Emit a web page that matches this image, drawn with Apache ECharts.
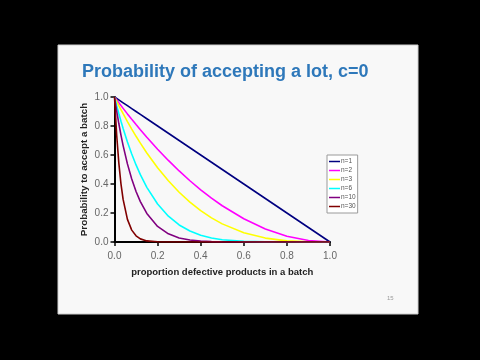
<!DOCTYPE html>
<html>
<head>
<meta charset="utf-8">
<script src="https://cdn.jsdelivr.net/npm/echarts@6/dist/echarts.min.js"></script>
<style>html,body{margin:0;padding:0;background:#000;}#c{width:480px;height:360px;}</style>
</head>
<body>
<div id="c"></div>
<script>
// proportion defective (x)
var pDefective = [0, 0.01, 0.02, 0.03, 0.04, 0.06, 0.08, 0.1, 0.12, 0.15, 0.2, 0.25, 0.3, 0.35, 0.4, 0.45, 0.5, 0.6, 0.7, 0.8, 0.9, 1.0];
var n1  = [1, 0.99, 0.98, 0.97, 0.96, 0.94, 0.92, 0.9, 0.88, 0.85, 0.8, 0.75, 0.7, 0.65, 0.6, 0.55, 0.5, 0.4, 0.3, 0.2, 0.1, 0];
var n2  = [1, 0.9801, 0.9604, 0.9409, 0.9216, 0.8836, 0.8464, 0.81, 0.7744, 0.7225, 0.64, 0.5625, 0.49, 0.4225, 0.36, 0.3025, 0.25, 0.16, 0.09, 0.04, 0.01, 0];
var n3  = [1, 0.9703, 0.9412, 0.9127, 0.8847, 0.8306, 0.7787, 0.729, 0.6815, 0.6141, 0.512, 0.4219, 0.343, 0.2746, 0.216, 0.1664, 0.125, 0.064, 0.027, 0.008, 0.001, 0];
var n6  = [1, 0.9415, 0.8858, 0.833, 0.7827, 0.6899, 0.6064, 0.5314, 0.4644, 0.3771, 0.2621, 0.178, 0.1176, 0.0754, 0.0467, 0.0277, 0.0156, 0.0041, 0.0007, 0.0001, 0, 0];
var n10 = [1, 0.9044, 0.8171, 0.7374, 0.6648, 0.5386, 0.4344, 0.3487, 0.2785, 0.1969, 0.1074, 0.0563, 0.0282, 0.0135, 0.006, 0.0025, 0.001, 0.0001, 0, 0, 0, 0];
var n30 = [1, 0.7397, 0.5455, 0.401, 0.2938, 0.1562, 0.082, 0.0424, 0.0216, 0.0076, 0.0012, 0.0002, 0, 0, 0, 0, 0, 0, 0, 0, 0, 0];
var seriesNames = ['n=1', 'n=2', 'n=3', 'n=6', 'n=10', 'n=30'];
var seriesValues = [n1, n2, n3, n6, n10, n30];
var seriesColors = ['#000080', '#FF00FF', '#FFFF00', '#00FFFF', '#800080', '#800000'];
var tickLabels = ['0.0', '0.2', '0.4', '0.6', '0.8', '1.0'];

function pairs(ys) { return pDefective.map(function (x, i) { return [x, ys[i]]; }); }

var FONT = '"Liberation Sans", Arial, sans-serif';
var chart = echarts.init(document.getElementById('c'), null, { renderer: 'canvas' });
var axisLabelFmt = function (v) { return v.toFixed(1); };
chart.setOption({
  backgroundColor: '#000',
  animation: false,
  graphic: [
    { type: 'rect', z: -10, shape: { x: 58, y: 45, width: 360, height: 269 }, style: { fill: '#f8f8f8', stroke: '#cfcfcf', lineWidth: 1 } },
    { type: 'text', left: 387, top: 295, style: { text: '15', fill: '#9a9a9a', font: '6px ' + FONT } }
  ],
  title: {
    text: 'Probability of accepting a lot, c=0',
    left: 77, top: 58,
    textStyle: { color: '#2e78ba', fontSize: 18, fontWeight: 'bold', fontFamily: FONT }
  },
  legend: {
    orient: 'vertical',
    left: 327, top: 155,
    padding: [3, 2, 3, 2],
    itemGap: 2,
    itemWidth: 11, itemHeight: 1.5,
    icon: 'rect',
    backgroundColor: '#fff',
    borderColor: '#9a9a9a', borderWidth: 1,
    textStyle: { fontSize: 6.5, color: '#555', fontFamily: FONT, padding: [0, 0, 0, -4] },
    data: seriesNames
  },
  grid: { left: 114.5, top: 97, width: 215.5, height: 145, containLabel: false },
  xAxis: {
    type: 'value', min: 0, max: 1, interval: 0.2,
    name: 'proportion defective products in a batch',
    nameLocation: 'middle', nameGap: 25,
    nameTextStyle: { color: '#222', fontSize: 9.5, fontWeight: 'bold', fontFamily: FONT },
    axisLine: { lineStyle: { color: '#000', width: 2 } },
    axisTick: { show: true, length: 4, lineStyle: { color: '#000', width: 1.5 } },
    axisLabel: { formatter: axisLabelFmt, color: '#666', fontSize: 10, margin: 9, fontFamily: FONT },
    splitLine: { show: false }
  },
  yAxis: {
    type: 'value', min: 0, max: 1, interval: 0.2,
    name: 'Probability to accept a batch',
    nameLocation: 'middle', nameGap: 25,
    nameTextStyle: { color: '#222', fontSize: 9.8, fontWeight: 'bold', fontFamily: FONT },
    axisLine: { lineStyle: { color: '#000', width: 2 } },
    axisTick: { show: true, length: 4, lineStyle: { color: '#000', width: 1.5 } },
    axisLabel: { formatter: axisLabelFmt, color: '#666', fontSize: 10, margin: 6, fontFamily: FONT },
    splitLine: { show: false }
  },
  series: seriesNames.map(function (name, i) {
    return {
      name: name, type: 'line', data: pairs(seriesValues[i]),
      showSymbol: false, symbol: 'none',
      lineStyle: { color: seriesColors[i], width: 1.6 },
      itemStyle: { color: seriesColors[i] }
    };
  })
});
</script>
</body>
</html>
